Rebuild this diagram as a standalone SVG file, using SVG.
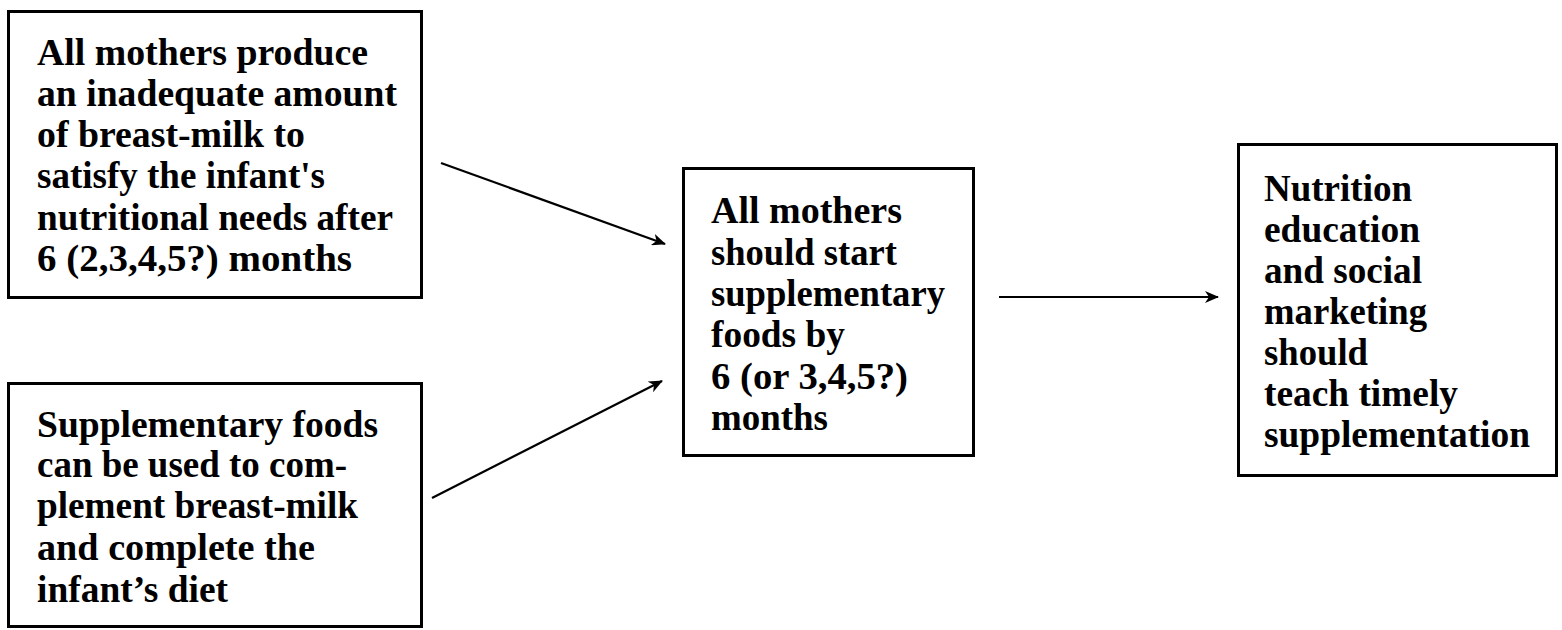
<svg xmlns="http://www.w3.org/2000/svg" width="1562" height="630" viewBox="0 0 1562 630">
<style>
.box{fill:#fff;stroke:#000;stroke-width:3}
.t{font-family:"Liberation Serif","Times New Roman",serif;font-weight:bold;font-size:37px;fill:#000}
.c{fill:none;stroke:#000;stroke-width:2.2}
</style>
<defs>
<marker id="ah" viewBox="0 0 14 12" refX="13" refY="6" markerWidth="14" markerHeight="12" markerUnits="userSpaceOnUse" orient="auto">
<path d="M0,0 L14,6 L0,12 L4,6 Z" fill="#000"/>
</marker>
</defs>
<rect width="1562" height="630" fill="#fff"/>
<g id="connectors">
<line class="c" x1="441" y1="163" x2="665" y2="244" marker-end="url(#ah)"/>
<line class="c" x1="432" y1="498" x2="662" y2="381" marker-end="url(#ah)"/>
<line class="c" x1="999" y1="297" x2="1218" y2="297" marker-end="url(#ah)"/>
</g>
<g id="node1">
<rect class="box" x="8.5" y="11.5" width="413" height="286"/>
<text class="t" x="37" y="65" textLength="331" lengthAdjust="spacingAndGlyphs">All mothers produce</text>
<text class="t" x="37" y="106" textLength="360" lengthAdjust="spacingAndGlyphs">an inadequate amount</text>
<text class="t" x="37" y="147" textLength="268" lengthAdjust="spacingAndGlyphs">of breast-milk to</text>
<text class="t" x="37" y="188" textLength="288" lengthAdjust="spacingAndGlyphs">satisfy the infant's</text>
<text class="t" x="37" y="230" textLength="356" lengthAdjust="spacingAndGlyphs">nutritional needs after</text>
<text class="t" x="37" y="271" textLength="315" lengthAdjust="spacingAndGlyphs">6 (2,3,4,5?) months</text>
</g>
<g id="node2">
<rect class="box" x="8.5" y="383.5" width="413" height="243"/>
<text class="t" x="37" y="437" textLength="341" lengthAdjust="spacingAndGlyphs">Supplementary foods</text>
<text class="t" x="37" y="477" textLength="310" lengthAdjust="spacingAndGlyphs">can be used to com-</text>
<text class="t" x="37" y="518" textLength="321" lengthAdjust="spacingAndGlyphs">plement breast-milk</text>
<text class="t" x="37" y="560" textLength="278" lengthAdjust="spacingAndGlyphs">and complete the</text>
<text class="t" x="37" y="602" textLength="191" lengthAdjust="spacingAndGlyphs">infant’s diet</text>
</g>
<g id="node3">
<rect class="box" x="683.5" y="168.5" width="290" height="287"/>
<text class="t" x="711" y="223" textLength="191" lengthAdjust="spacingAndGlyphs">All mothers</text>
<text class="t" x="711" y="265" textLength="186" lengthAdjust="spacingAndGlyphs">should start</text>
<text class="t" x="711" y="306" textLength="234" lengthAdjust="spacingAndGlyphs">supplementary</text>
<text class="t" x="711" y="347" textLength="134" lengthAdjust="spacingAndGlyphs">foods by</text>
<text class="t" x="711" y="389" textLength="197" lengthAdjust="spacingAndGlyphs">6 (or 3,4,5?)</text>
<text class="t" x="711" y="430" textLength="117" lengthAdjust="spacingAndGlyphs">months</text>
</g>
<g id="node4">
<rect class="box" x="1238.5" y="144.5" width="318" height="331"/>
<text class="t" x="1264" y="201" textLength="148" lengthAdjust="spacingAndGlyphs">Nutrition</text>
<text class="t" x="1264" y="242" textLength="156" lengthAdjust="spacingAndGlyphs">education</text>
<text class="t" x="1264" y="283" textLength="158" lengthAdjust="spacingAndGlyphs">and social</text>
<text class="t" x="1264" y="324" textLength="163" lengthAdjust="spacingAndGlyphs">marketing</text>
<text class="t" x="1264" y="365" textLength="104" lengthAdjust="spacingAndGlyphs">should</text>
<text class="t" x="1264" y="406" textLength="194" lengthAdjust="spacingAndGlyphs">teach timely</text>
<text class="t" x="1264" y="447" textLength="266" lengthAdjust="spacingAndGlyphs">supplementation</text>
</g>
</svg>
